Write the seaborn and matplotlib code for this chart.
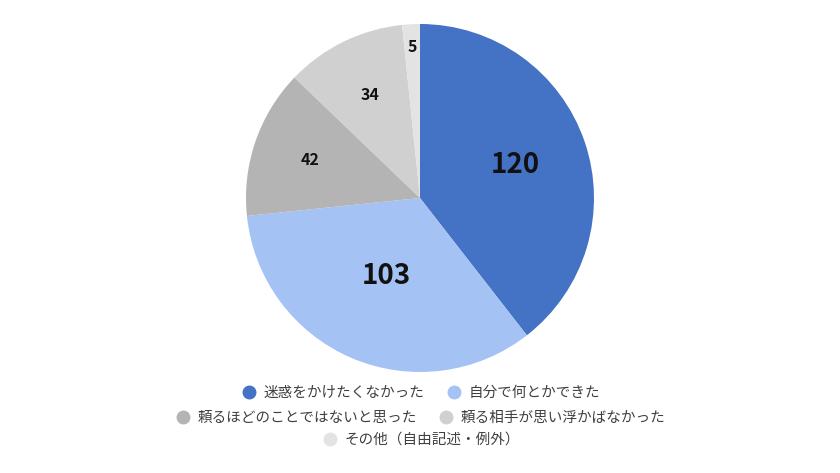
import numpy as np
import matplotlib
matplotlib.use("Agg")
import matplotlib.pyplot as plt
from matplotlib.lines import Line2D
import seaborn as sns

sns.set_theme(style="white")
plt.rcParams['font.family'] = ['Noto Sans CJK JP', 'DejaVu Sans']

# データ
labels = ['迷惑をかけたくなかった', '自分で何とかできた', '頼るほどのことではないと思った',
          '頼る相手が思い浮かばなかった', 'その他（自由記述・例外）']
counts = [120, 103, 42, 34, 5]
colors = ['#4472c4', '#a4c2f4', '#b4b4b4', '#d0d0d0', '#e3e3e3']
label_dist = [0.58, 0.49, 0.67, 0.66, 0.87]
label_size = [20, 20, 11.5, 11.5, 11.5]

fig = plt.figure(figsize=(8.4, 4.73), dpi=100)
ax = fig.add_axes([246 / 840, 1 - 372 / 473, 348 / 840, 348 / 473])

wedges, _ = ax.pie(counts, colors=colors, startangle=90, counterclock=False,
                   wedgeprops=dict(linewidth=0))
ax.set_xlim(-1, 1)
ax.set_ylim(-1, 1)
ax.set_aspect('equal')

# 値ラベル
for w, n, d, s in zip(wedges, counts, label_dist, label_size):
    ang = np.deg2rad((w.theta1 + w.theta2) / 2)
    ax.text(d * np.cos(ang), d * np.sin(ang), str(n), ha='center', va='center',
            fontsize=s, fontweight='bold', color='#111111')

# 凡例（行ごとに中央揃え）
handles = [Line2D([], [], marker='o', linestyle='none', markersize=9,
                  markerfacecolor=c, markeredgecolor=c) for c in colors]
rows = [([0, 1], 0.169), ([2, 3], 0.116), ([4], 0.070)]
for idx, y in rows:
    leg = fig.legend([handles[i] for i in idx], [labels[i] for i in idx],
                     loc='center', bbox_to_anchor=(0.502, y), ncol=len(idx),
                     frameon=False, fontsize=10.5, handlelength=0.8,
                     handletextpad=0.6, columnspacing=1.6, borderpad=0,
                     labelcolor='#404040')

fig.savefig('out.png', dpi=100)
